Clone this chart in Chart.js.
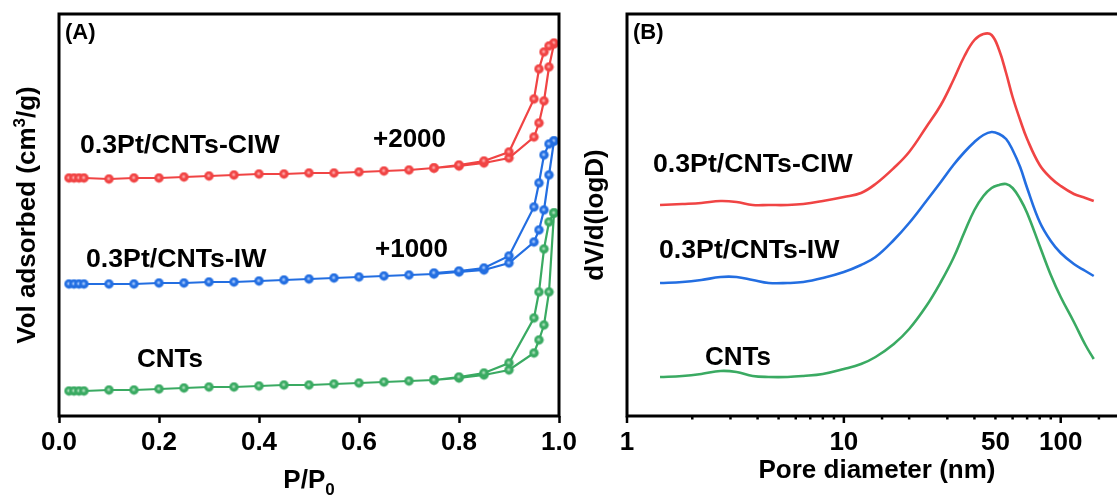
<!DOCTYPE html>
<html><head><meta charset="utf-8">
<script src="https://cdn.jsdelivr.net/npm/chart.js@4.4.0/dist/chart.umd.min.js"></script>
<style>
html,body{margin:0;padding:0;background:#fff;overflow:hidden;width:1117px;height:498px;position:relative;}
#ca{position:absolute;left:0;top:0;}
#cb{position:absolute;left:570px;top:0;}
</style></head><body>
<canvas id="ca" width="600" height="498"></canvas>
<canvas id="cb" width="570" height="498"></canvas>
<script>
// ---------- Panel A data: N2 isotherms ----------
const pAds = [0.02,0.03,0.04,0.05,0.1,0.15,0.2,0.25,0.3,0.35,0.4,0.45,0.5,0.55,0.6,0.65,0.7,0.75,0.8,0.85,0.9,0.95,0.96,0.97,0.98,0.99];
const pDes = [0.99,0.98,0.97,0.96,0.95,0.9,0.85,0.8,0.75];
const cntsAds = [250,250,250,250,260,260,270,280,290,290,300,310,310,320,330,340,350,360,380,410,460,630,760,910,1240,2030];
const cntsDes = [2030,1940,1670,1240,980,530,430,390,360];
const iwAds = [320,320,320,320,320,320,330,330,340,340,350,360,370,380,390,400,410,420,440,460,530,740,860,1060,1410,1750];
const iwDes = [1750,1720,1610,1330,1090,600,480,450,430];
const ciwAds = [380,380,380,380,370,380,380,390,400,410,420,420,430,430,440,450,460,480,500,530,580,790,930,1150,1490,1720];
const ciwDes = [1730,1700,1640,1470,1170,640,550,510,480];
const offsetIW = 1000;
const offsetCIW = 2000;
const xTicksA = [0,0.2,0.4,0.6,0.8,1.0];

// ---------- Panel B data: pore size distribution ----------
const poreD = [1.42,1.8,2.2,2.7,3.2,3.8,4.5,5.5,6.5,8,10,12,14,17,20,24,28,32,36,40,44,48,52,56,60,65,70,80,90,100,115,130,142];
const ciwPSD = [2.11,2.12,2.13,2.15,2.14,2.11,2.11,2.11,2.12,2.15,2.19,2.23,2.32,2.48,2.64,2.89,3.11,3.36,3.60,3.76,3.82,3.81,3.66,3.43,3.19,2.96,2.77,2.51,2.38,2.30,2.22,2.18,2.15];
const iwPSD = [1.33,1.34,1.36,1.39,1.39,1.36,1.33,1.33,1.34,1.38,1.44,1.51,1.59,1.76,1.93,2.15,2.34,2.51,2.64,2.74,2.81,2.84,2.82,2.77,2.66,2.49,2.28,1.94,1.75,1.63,1.52,1.45,1.40];
const cntsPSD = [0.39,0.40,0.42,0.45,0.44,0.40,0.39,0.39,0.40,0.42,0.47,0.52,0.59,0.72,0.87,1.10,1.34,1.58,1.84,2.06,2.20,2.28,2.31,2.32,2.28,2.17,2.03,1.70,1.41,1.19,0.94,0.71,0.57];
const xTickLabelsB = [1,10,50,100];

const seriesNames = ['CNTs','0.3Pt/CNTs-IW','0.3Pt/CNTs-CIW'];
const RED = 'rgb(240,68,68)', BLUE = 'rgb(35,110,225)', GREEN = 'rgb(58,170,98)';
const RED_L = 'rgb(255,150,150)', BLUE_L = 'rgb(140,185,250)', GREEN_L = 'rgb(150,215,170)';

const FONT = '"Liberation Sans", Arial, Helvetica, sans-serif';
const bf = s => `bold ${s}px ${FONT}`;

function ball(color, light){
  const c = document.createElement('canvas'); c.width = c.height = 11;
  const g = c.getContext('2d');
  const grd = g.createRadialGradient(5,5,0.1,5.5,5.5,5);
  grd.addColorStop(0,'#ffffff'); grd.addColorStop(0.14,light); grd.addColorStop(0.45,color); grd.addColorStop(1,color);
  g.fillStyle = grd; g.beginPath(); g.arc(5.5,5.5,4.7,0,Math.PI*2); g.fill();
  return c;
}
function iso(ads, des, off){
  const a = ads.map((v,i)=>({x:pAds[i], y:v+off}));
  const d = des.map((v,i)=>({x:pDes[i], y:v+off}));
  return a.concat(d);
}
function rich(ctx, segs, c, base, rot){
  ctx.save();
  let w = 0;
  segs.forEach(s=>{ ctx.font = bf(s.size); s.w = ctx.measureText(s.t).width; w += s.w; });
  if (rot){ ctx.translate(base, c); ctx.rotate(-Math.PI/2); } else { ctx.translate(c, base); }
  let x = -w/2;
  ctx.textBaseline = 'alphabetic'; ctx.textAlign = 'left'; ctx.fillStyle = '#000';
  segs.forEach(s=>{ ctx.font = bf(s.size); ctx.fillText(s.t, x, s.dy||0); x += s.w; });
  ctx.restore();
}
function txt(ctx, t, x, y, size){
  ctx.save(); ctx.font = bf(size); ctx.fillStyle = '#000';
  ctx.textBaseline = 'alphabetic'; ctx.textAlign = 'left'; ctx.fillText(t, x, y); ctx.restore();
}

const decoA = {
  id:'decoA',
  afterDraw(chart){
    const ctx = chart.ctx, a = chart.chartArea;
    ctx.save(); ctx.strokeStyle = '#000'; ctx.lineWidth = 3;
    ctx.strokeRect(a.left, a.top, a.right-a.left, a.bottom-a.top); ctx.restore();
    txt(ctx, '(A)', 65, 39, 22);
    txt(ctx, seriesNames[2], 80, 153, 26.7);
    txt(ctx, '+' + offsetCIW, 373, 147, 26);
    txt(ctx, seriesNames[1], 86, 267, 26.7);
    txt(ctx, '+' + offsetIW, 375, 257, 26);
    txt(ctx, seriesNames[0], 137, 367, 26);
    rich(ctx, [{t:'P/P',size:26},{t:'0',size:17,dy:7}], (a.left+a.right)/2, 488, false);
    rich(ctx, [{t:'Vol adsorbed (cm',size:26},{t:'3',size:17,dy:-10},{t:'/g)',size:26}], (a.top+a.bottom)/2, 35, true);
  }
};
const decoB = {
  id:'decoB',
  afterDraw(chart){
    const ctx = chart.ctx, a = chart.chartArea, xs = chart.scales.x;
    ctx.save(); ctx.strokeStyle = '#000'; ctx.lineWidth = 3;
    ctx.strokeRect(a.left, a.top, a.right-a.left, a.bottom-a.top);
    ctx.lineWidth = 2.5;
    xs.ticks.forEach(t=>{
      const px = xs.getPixelForValue(t.value);
      const lg = Math.log10(t.value);
      const major = Math.abs(lg - Math.round(lg)) < 1e-6;
      ctx.beginPath(); ctx.moveTo(px, a.bottom); ctx.lineTo(px, a.bottom + (major ? 7 : 3.5)); ctx.stroke();
    });
    ctx.restore();
    txt(ctx, '(B)', 63, 39, 22);
    txt(ctx, seriesNames[2], 83, 172, 26.7);
    txt(ctx, seriesNames[1], 89, 258, 26.7);
    txt(ctx, seriesNames[0], 135, 365, 26);
    rich(ctx, [{t:'Pore diameter (nm)',size:26}], 307, 478, false);
    rich(ctx, [{t:'dV/d(logD)',size:26}], (a.top+a.bottom)/2, 33, true);
  }
};

const tickFont = {family: FONT, size: 26, weight: 'bold'};

new Chart(document.getElementById('ca'), {
  type: 'scatter',
  data: { datasets: [
    {label: seriesNames[2], data: iso(ciwAds, ciwDes, offsetCIW), borderColor: RED, backgroundColor: RED, pointStyle: ball(RED, RED_L)},
    {label: seriesNames[1], data: iso(iwAds, iwDes, offsetIW), borderColor: BLUE, backgroundColor: BLUE, pointStyle: ball(BLUE, BLUE_L)},
    {label: seriesNames[0], data: iso(cntsAds, cntsDes, 0), borderColor: GREEN, backgroundColor: GREEN, pointStyle: ball(GREEN, GREEN_L)}
  ].map(d => Object.assign(d, {showLine: true, borderWidth: 2.2, pointRadius: 4.5, tension: 0})) },
  options: {
    responsive: false, animation: false, events: [],
    layout: {padding: {left: 59, right: 41, top: 14, bottom: 0}},
    plugins: {legend: {display: false}, tooltip: {enabled: false}},
    scales: {
      x: {type: 'linear', min: 0, max: 1, position: 'bottom',
          afterBuildTicks: s => { s.ticks = xTicksA.map(v => ({value: v})); },
          afterFit: s => { s.height = 82; },
          ticks: {callback: v => Number(v).toFixed(1), font: tickFont, color: '#000', padding: 4, maxRotation: 0},
          grid: {drawOnChartArea: false, drawTicks: true, tickLength: 7, tickWidth: 2.5, tickColor: '#000'},
          border: {display: false}},
      y: {display: false, min: 0, max: 4020}
    }
  },
  plugins: [decoA]
});

new Chart(document.getElementById('cb'), {
  type: 'line',
  data: { datasets: [
    {label: seriesNames[2], data: poreD.map((d,i)=>({x:d, y:ciwPSD[i]})), borderColor: RED},
    {label: seriesNames[1], data: poreD.map((d,i)=>({x:d, y:iwPSD[i]})), borderColor: BLUE},
    {label: seriesNames[0], data: poreD.map((d,i)=>({x:d, y:cntsPSD[i]})), borderColor: GREEN}
  ].map(d => Object.assign(d, {borderWidth: 2.6, pointRadius: 0, tension: 0.4, fill: false})) },
  options: {
    responsive: false, animation: false, events: [],
    layout: {padding: {left: 57, right: 14, top: 14, bottom: 0}},
    plugins: {legend: {display: false}, tooltip: {enabled: false}},
    scales: {
      x: {type: 'logarithmic', min: 1, max: 200, position: 'bottom',
          afterFit: s => { s.height = 82; },
          ticks: {autoSkip: false, maxRotation: 0, font: tickFont, color: '#000', padding: 4,
                  callback: v => { const L = xTickLabelsB.find(l => Math.abs(v - l) / l < 1e-6); return L ? String(L) : ''; }},
          grid: {drawOnChartArea: false, drawTicks: true, tickLength: 7, tickColor: 'rgba(0,0,0,0)'},
          border: {display: false}},
      y: {display: false, min: 0, max: 4.02}
    }
  },
  plugins: [decoB]
});
</script>
</body></html>
